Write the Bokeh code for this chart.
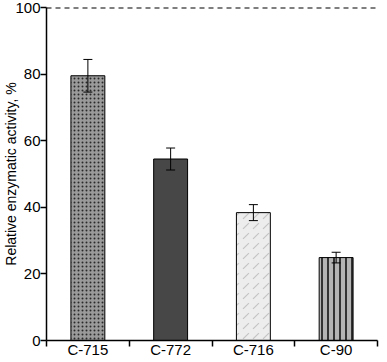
from bokeh.plotting import figure
from bokeh.models import ColumnDataSource, FixedTicker, Whisker, Span, Range1d
from bokeh.embed import file_html
from bokeh.resources import INLINE

categories = ["C-715", "C-772", "C-716", "C-90"]
values = [79.5, 54.5, 38.4, 24.9]
errors = [4.9, 3.3, 2.4, 1.6]
y_ticks = [0, 20, 40, 60, 80, 100]

xs = [i + 0.5 for i in range(len(categories))]
src = ColumnDataSource(dict(
    x=xs, top=values,
    upper=[v + e for v, e in zip(values, errors)],
    lower=[v - e for v, e in zip(values, errors)],
))

p = figure(width=385, height=360, output_backend="svg", toolbar_location=None,
           x_range=Range1d(0, len(categories)), y_range=Range1d(0, 100),
           min_border_top=7, min_border_right=8, min_border_bottom=0, min_border_left=0)
p.outline_line_color = None
p.grid.visible = False
p.background_fill_color = "white"

styles = [
    dict(fill_color="#9a9a9a", hatch_pattern=".", hatch_color="#2a2a2a", hatch_scale=4, hatch_weight=1.2),
    dict(fill_color="#474747", hatch_pattern=None),
    dict(fill_color="#ededed", hatch_pattern=",", hatch_color="#c4c4c4", hatch_scale=10, hatch_weight=1.2),
    dict(fill_color="#b4b4b4", hatch_pattern="|", hatch_color="#333333", hatch_scale=6, hatch_weight=2),
]
for i, st in enumerate(styles):
    s = ColumnDataSource(dict(x=[xs[i]], top=[values[i]]))
    kw = {k: v for k, v in st.items() if v is not None}
    p.vbar(x="x", top="top", bottom=0, width=0.41, source=s,
           line_color="black", line_width=1, **kw)

w = Whisker(base="x", upper="upper", lower="lower", source=src,
            line_color="black", line_width=1, level="overlay")
w.upper_head.size = 9
w.lower_head.size = 9
w.upper_head.line_width = 1
w.lower_head.line_width = 1
p.add_layout(w)

p.add_layout(Span(location=100, dimension="width", line_color="black",
                  line_dash="5 4", line_width=2))

font = "Liberation Sans"
p.yaxis.ticker = FixedTicker(ticks=y_ticks)
p.yaxis.axis_label = "Relative enzymatic activity, %"
p.yaxis.axis_label_text_font = font
p.yaxis.axis_label_text_font_style = "normal"
p.yaxis.axis_label_text_font_size = "14px"
p.yaxis.axis_label_text_color = "black"
p.yaxis.axis_label_standoff = -7
p.yaxis.major_label_text_font = font
p.yaxis.major_label_text_font_size = "15px"
p.yaxis.major_label_text_color = "black"
p.yaxis.major_label_standoff = 0
p.yaxis.major_tick_in = 0
p.yaxis.major_tick_out = 6
p.yaxis.minor_tick_line_color = None
p.yaxis.axis_line_width = 1.5
p.yaxis.major_tick_line_width = 1.5

p.xaxis.ticker = FixedTicker(ticks=xs, minor_ticks=list(range(len(categories) + 1)))
p.xaxis.major_label_overrides = {x: c for x, c in zip(xs, categories)}
p.xaxis.major_label_text_font = font
p.xaxis.major_label_text_font_size = "15px"
p.xaxis.major_label_text_color = "black"
p.xaxis.major_tick_in = 0
p.xaxis.major_tick_out = 0
p.xaxis.major_tick_line_color = None
p.xaxis.minor_tick_in = 0
p.xaxis.minor_tick_out = 6
p.xaxis.minor_tick_line_width = 1.5
p.xaxis.minor_tick_line_color = "black"
p.xaxis.axis_line_width = 1.5
p.xaxis.major_label_standoff = -6

open("out.html", "w").write(file_html(p, INLINE))
